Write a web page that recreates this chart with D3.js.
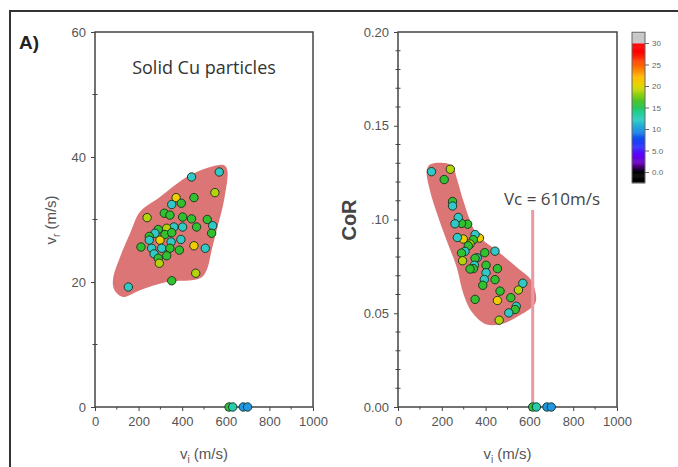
<!DOCTYPE html>
<html><head><meta charset="utf-8">
<script src="https://cdn.jsdelivr.net/npm/d3@7"></script>
<style>
html,body{margin:0;padding:0;background:#fff;}
svg{display:block;font-family:"Liberation Sans",Arial,sans-serif;}
</style></head>
<body>
<svg id="chart" width="678" height="467"></svg>
<script>
// ---------- data ----------
const vi = [570,443,550,372,454,352,396,318,239,344,402,443,515,466,540,535,402,362,290,329,275,249,321,352,394,349,298,249,211,260,306,344,387,454,506,271,290,329,295,462,352,153];
const vr = [37.6,36.8,34.3,33.5,33.5,32.4,32.6,31.0,30.3,30.7,30.4,30.1,30.0,28.8,29.0,27.8,28.8,28.8,28.4,28.6,27.8,27.3,27.6,27.9,26.8,26.4,26.7,26.7,25.6,25.4,25.4,25.4,25.1,25.8,25.4,24.5,23.8,24.2,23.0,21.4,20.2,19.2];
const cor = [0.0660,0.0831,0.0624,0.0901,0.0738,0.0920,0.0823,0.0975,0.1268,0.0892,0.0756,0.0679,0.0583,0.0618,0.0537,0.0520,0.0716,0.0796,0.0979,0.0869,0.1011,0.1096,0.0860,0.0793,0.0680,0.0756,0.0896,0.1072,0.1213,0.0977,0.0830,0.0738,0.0649,0.0568,0.0502,0.0904,0.0821,0.0736,0.0780,0.0463,0.0574,0.1255];
const colorVal = [12,12,19,21,16,12,16,16,19,16,16,16,16,16,12,16,12,12,16,19,12,16,16,16,12,12,21,12,16,12,12,16,16,21,12,12,16,16,19,19,16,12];
// particles that bonded (rebound velocity 0)
const viBonded = [615,632,680,700];
const colorBonded = [16,13,10,10];
// hull outlines
const hullLeftVi = [84,84,115,161,206,298,421,528,592,607,592,558,535,512,482,329,206,130,100];
const hullLeftVr = [19.2,20.8,24.0,27.8,31.2,33.6,36.8,38.4,38.7,37.9,33.1,28.3,25.1,21.9,20.6,20.0,18.7,17.6,18.2];
const hullRightVi = [131,146,192,247,269,298,359,451,542,603,626,626,543,466,402,338,298,268,222,184,146];
const hullRightCor = [0.1261,0.1293,0.1303,0.1287,0.1218,0.1101,0.0924,0.0835,0.0746,0.0685,0.0622,0.0552,0.0480,0.0441,0.0441,0.0505,0.0606,0.0746,0.0888,0.1012,0.1154];
const vc = 615;
const vcLabel = "Vc = 610m/s";
const xTicks = [0,200,400,600,800,1000];
const xMinor = [100,300,500,700,900];
const yLeftTicks = [0,20,40,60];
const yLeftMinor = [10,30,50];
const yRightTicks = [0,0.05,0.10,0.15,0.20];
const yRightLabels = ["0.00","0.05",".10","0.15","0.20"];
const yRightMinor = [0.01,0.02,0.03,0.04,0.06,0.07,0.08,0.09,0.11,0.12,0.13,0.14,0.16,0.17,0.18,0.19];
const cbTicks = [0,5,10,15,20,25,30];
const cbLabels = ["0.0","5.0","10","15","20","25","30"];
const cmapStops = [0,2,4,6,8,10,12,14,16,18,20,22,24,26,28,30];
const cmapColors = ["#000000","#6a00b0","#6000ff","#3030ff","#1050f0","#2098e0","#30c8c8","#20d090","#30c030","#88d010","#e0d800","#ffc000","#ff8000","#ff4000","#ff0000","#ff0000"];

// ---------- drawing ----------
const svg = d3.select("#chart");
const cmap = d3.scaleLinear().domain(cmapStops).range(cmapColors).clamp(true);
const axisColor = "#444";
const labelColor = "#555";

// outer frame
svg.append("path").attr("d","M10,467 L10,11 L678,11").attr("fill","none").attr("stroke","#333").attr("stroke-width",2);

svg.append("text").attr("x",19).attr("y",49).attr("font-size",19).attr("font-weight","bold").attr("fill","#222").text("A)");

function panel(cfg){
  const x = d3.scaleLinear().domain([0,1000]).range([cfg.x0,cfg.x1]);
  const y = d3.scaleLinear().domain(cfg.ydom).range([407,32]);
  const g = svg.append("g");
  // hull
  const pts = cfg.hx.map((d,i)=>[x(d),y(cfg.hy[i])]);
  g.append("path").attr("d",d3.line().curve(d3.curveCatmullRomClosed.alpha(0.5))(pts))
    .attr("fill","#dc7676");
  if(cfg.extra) cfg.extra(g,x,y);
  // frame
  g.append("rect").attr("x",cfg.x0).attr("y",32).attr("width",cfg.x1-cfg.x0).attr("height",375)
    .attr("fill","none").attr("stroke",axisColor).attr("stroke-width",1.5);
  // x axis
  const xa = g.append("g").attr("transform","translate(0,407)")
    .call(d3.axisBottom(x).tickValues(xTicks).tickSize(4).tickPadding(6).tickFormat(d3.format("d")));
  xa.append("g").selectAll("line").data(xMinor).join("line")
    .attr("x1",d=>x(d)).attr("x2",d=>x(d)).attr("y1",0).attr("y2",2.5).attr("stroke",axisColor);
  // y axis
  const ya = g.append("g").attr("transform",`translate(${cfg.x0},0)`)
    .call(d3.axisLeft(y).tickValues(cfg.yt).tickSize(4).tickPadding(5).tickFormat((d,i)=>cfg.ylab[i]));
  ya.append("g").selectAll("line").data(cfg.ym).join("line")
    .attr("y1",d=>y(d)).attr("y2",d=>y(d)).attr("x1",-2.5).attr("x2",2.5).attr("stroke",axisColor);
  [xa,ya].forEach(a=>{
    a.select(".domain").remove();
    a.selectAll(".tick line").attr("stroke",axisColor);
    a.selectAll("text").attr("fill",labelColor).attr("font-size",13).attr("font-family","Liberation Sans, Arial, sans-serif");
  });
  // points
  g.append("g").selectAll("circle").data(cfg.py.map((d,i)=>i)).join("circle")
    .attr("cx",i=>x(vi[i])).attr("cy",i=>y(cfg.py[i])).attr("r",4.2)
    .attr("fill",i=>cmap(colorVal[i])).attr("stroke","#1f3a1f").attr("stroke-width",1);
  g.append("g").selectAll("circle").data(viBonded).join("circle")
    .attr("cx",d=>x(d)).attr("cy",y(0)).attr("r",4.2)
    .attr("fill",(d,i)=>cmap(colorBonded[i])).attr("stroke","#1a3a3a").attr("stroke-width",1);
  // x label
  const xl = g.append("text").attr("x",(cfg.x0+cfg.x1)/2).attr("y",459).attr("text-anchor","middle")
    .attr("font-size",15).attr("fill",labelColor);
  xl.append("tspan").text("v");
  xl.append("tspan").attr("font-size",10).attr("dy",4).text("i");
  xl.append("tspan").attr("dy",-4).text(" (m/s)");
  return {x,y,g};
}

// left panel
const L = panel({x0:95,x1:313,ydom:[0,60],hx:hullLeftVi,hy:hullLeftVr,py:vr,
  yt:yLeftTicks,ylab:yLeftTicks.map(String),ym:yLeftMinor});
const yl = svg.append("text").attr("transform","translate(56,220) rotate(-90)").attr("text-anchor","middle")
  .attr("font-size",15).attr("fill",labelColor);
yl.append("tspan").text("v");
yl.append("tspan").attr("font-size",10).attr("dy",4).text("r");
yl.append("tspan").attr("dy",-4).text(" (m/s)");
svg.append("text").attr("x",204).attr("y",74).attr("text-anchor","middle").attr("font-size",18)
  .attr("fill","#333").attr("font-family","Open Sans, sans-serif").text("Solid Cu particles");

// right panel
const R = panel({x0:398,x1:617,ydom:[0,0.2],hx:hullRightVi,hy:hullRightCor,py:cor,
  yt:yRightTicks,ylab:yRightLabels,ym:yRightMinor,
  extra:(g,x,y)=>{
    g.append("line").attr("x1",x(vc)).attr("x2",x(vc)).attr("y1",210).attr("y2",y(0))
      .attr("stroke","#e89aa2").attr("stroke-width",3);
  }});
svg.append("text").attr("transform","translate(356,220) rotate(-90)").attr("text-anchor","middle")
  .attr("font-size",20).attr("font-weight","bold").attr("fill","#444").text("CoR");
svg.append("text").attr("x",552).attr("y",205).attr("text-anchor","middle").attr("font-size",17)
  .attr("fill","#444").attr("font-family","Open Sans, sans-serif").text(vcLabel);

// colorbar
const cb = d3.scaleLinear().domain([0,30]).range([172,43]);
const cbg = svg.append("g");
const steps = d3.range(-2.5,32.5,0.25);
cbg.selectAll("rect").data(steps).join("rect")
  .attr("x",632).attr("width",13).attr("y",d=>cb(d+0.25)).attr("height",cb(0)-cb(0.25)+0.5)
  .attr("fill",d=> d<0 ? "#000" : (d>=30 ? "#c8c8c8" : cmap(d+0.125)));
cbg.append("rect").attr("x",632).attr("y",cb(32.5)).attr("width",13).attr("height",cb(-2.5)-cb(32.5))
  .attr("fill","none").attr("stroke","#666").attr("stroke-width",1);
const cba = cbg.append("g").attr("transform","translate(645,0)")
  .call(d3.axisRight(cb).tickValues(cbTicks).tickSize(4).tickPadding(3).tickFormat((d,i)=>cbLabels[i]));
cba.select(".domain").remove();
cba.selectAll(".tick line").attr("stroke","#666");
cba.selectAll("text").attr("font-size",8).attr("fill","#666");
</script>
</body></html>
